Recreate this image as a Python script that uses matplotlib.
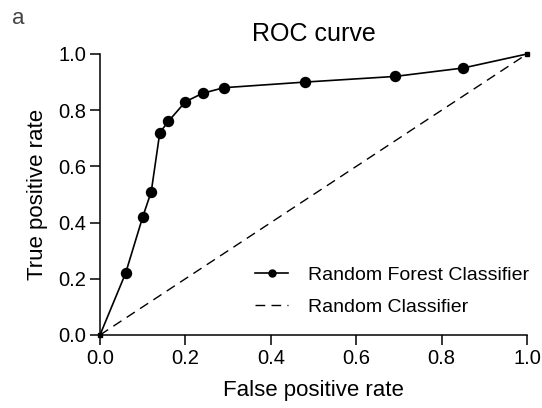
import matplotlib.pyplot as plt

plt.rcParams['font.family'] = ['Liberation Sans', 'DejaVu Sans']

# ROC points
fpr = [0.0, 0.06, 0.10, 0.12, 0.14, 0.16, 0.20, 0.24, 0.29, 0.48, 0.69, 0.85, 1.0]
tpr = [0.0, 0.22, 0.42, 0.51, 0.72, 0.76, 0.83, 0.86, 0.88, 0.90, 0.92, 0.95, 1.0]
diag = [0.0, 1.0]
ticks = [0.0, 0.2, 0.4, 0.6, 0.8, 1.0]

fig = plt.figure(figsize=(5.42, 4.08), dpi=100)
ax = fig.add_axes([0.1845, 0.179, 0.788, 0.6887])

inner = list(range(1, len(fpr) - 1))
rf, = ax.plot(fpr, tpr, color='black', lw=1.2, marker='o', ms=7.2,
              markevery=inner, clip_on=False)
# small end marks at (0,0) and (1,1)
ax.plot([fpr[0], fpr[-1]], [tpr[0], tpr[-1]], ls='none', marker='s', ms=3,
        color='black', clip_on=False)
rnd, = ax.plot(diag, diag, color='black', lw=1.0, ls=(0, (7, 4.5)))

ax.set_xlim(0, 1)
ax.set_ylim(0, 1)
ax.set_xticks(ticks)
ax.set_yticks(ticks)
ax.set_xticklabels([f'{t:.1f}' for t in ticks])
ax.set_yticklabels([f'{t:.1f}' for t in ticks])
ax.tick_params(direction='out', length=7, width=1.1, labelsize=14.5, pad=3)
for s in ['top', 'right']:
    ax.spines[s].set_visible(False)
for s in ['left', 'bottom']:
    ax.spines[s].set_linewidth(1.1)

ax.set_xlabel('False positive rate', fontsize=16, labelpad=9)
ax.set_ylabel('True positive rate', fontsize=16, labelpad=7)
ax.set_title('ROC curve', fontsize=18, pad=9)

ax.legend([rf, rnd], ['Random Forest Classifier', 'Random Classifier'],
          frameon=False, fontsize=14, loc='lower right',
          bbox_to_anchor=(1.045, 0.006), handlelength=1.7,
          handletextpad=1.0, labelspacing=0.75, markerscale=0.7)

fig.text(0.022, 0.94, 'a', fontsize=16, color='#444444')

fig.savefig('out.png', dpi=100)
